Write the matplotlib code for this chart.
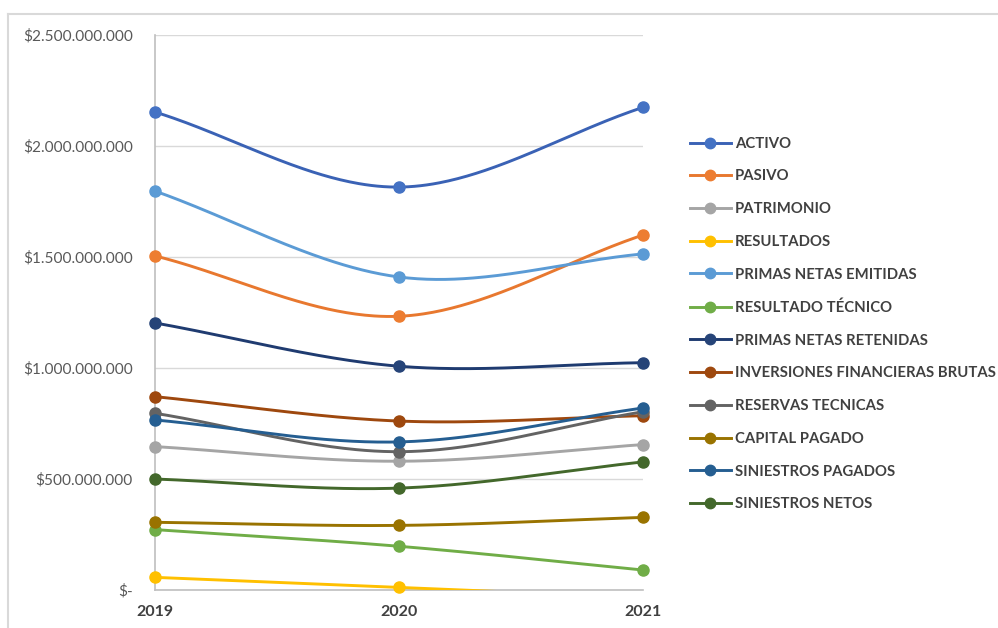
import numpy as np
import matplotlib.pyplot as plt
from matplotlib.lines import Line2D
from matplotlib.ticker import FuncFormatter, MultipleLocator

plt.rcParams['font.family'] = ['Lato', 'DejaVu Sans']

years = ['2019', '2020', '2021']

# pesos por año
activo = [2153e6, 1815e6, 2174e6]
pasivo = [1505e6, 1233e6, 1599e6]
patrimonio = [646e6, 580e6, 655e6]
resultados = [57e6, 12e6, -35e6]
primas_emitidas = [1797e6, 1410e6, 1514e6]
resultado_tecnico = [272e6, 197e6, 90e6]
primas_retenidas = [1203e6, 1008e6, 1024e6]
inversiones = [871e6, 761e6, 785e6]
reservas = [796e6, 623e6, 803e6]
capital_pagado = [305e6, 291e6, 327e6]
siniestros_pagados = [766e6, 667e6, 820e6]
siniestros_netos = [500e6, 459e6, 577e6]

series = [
    ('ACTIVO', activo, '#3A62B5', '#4472C4'),
    ('PASIVO', pasivo, '#E8782F', '#ED7D31'),
    ('PATRIMONIO', patrimonio, '#A5A5A5', '#A5A5A5'),
    ('RESULTADOS', resultados, '#FFC000', '#FFC000'),
    ('PRIMAS NETAS EMITIDAS', primas_emitidas, '#5B9BD5', '#5B9BD5'),
    ('RESULTADO TÉCNICO', resultado_tecnico, '#70AD47', '#70AD47'),
    ('PRIMAS NETAS RETENIDAS', primas_retenidas, '#1F3B70', '#264478'),
    ('INVERSIONES FINANCIERAS BRUTAS', inversiones, '#9E480E', '#9E480E'),
    ('RESERVAS TECNICAS', reservas, '#636363', '#636363'),
    ('CAPITAL PAGADO', capital_pagado, '#997300', '#997300'),
    ('SINIESTROS PAGADOS', siniestros_pagados, '#255E91', '#255E91'),
    ('SINIESTROS NETOS', siniestros_netos, '#43682B', '#43682B'),
]


def smooth(values, n=80):
    # curva suavizada tipo Excel (Hermite cúbica)
    y = np.asarray(values, float)
    m = np.empty_like(y)
    m[0] = y[1] - y[0]
    m[-1] = y[-1] - y[-2]
    m[1:-1] = (y[2:] - y[:-2]) / 2
    t = np.linspace(0, 1, n)
    h00 = 2 * t**3 - 3 * t**2 + 1
    h10 = t**3 - 2 * t**2 + t
    h01 = -2 * t**3 + 3 * t**2
    h11 = t**3 - t**2
    xs, ys = [], []
    for i in range(len(y) - 1):
        xs.append(i + t)
        ys.append(h00 * y[i] + h10 * m[i] + h01 * y[i + 1] + h11 * m[i + 1])
    return np.concatenate(xs), np.concatenate(ys)


fig = plt.figure(figsize=(9.98, 6.28), dpi=100)
ax = fig.add_axes([155 / 998, 1 - 590 / 628, (643 - 155) / 998, (590 - 35) / 628])

handles = []
for name, vals, lc, mc in series:
    sx, sy = smooth(vals)
    ax.plot(sx, sy, color=lc, lw=2.1, solid_capstyle='round', zorder=3)
    x = np.arange(len(vals))
    v = np.asarray(vals)
    ok = v >= 0
    ax.plot(x[ok], v[ok], 'o', color=mc, ms=8, clip_on=False, zorder=4)
    handles.append(Line2D([], [], color=lc, lw=2.1, marker='o', ms=7.5,
                          markerfacecolor=mc, markeredgecolor=mc))

ax.set_xlim(0, len(years) - 1)
ax.set_ylim(0, 2.5e9)
ax.set_xticks(range(len(years)))
ax.set_xticklabels(years, fontweight='bold', color='#404040', fontsize=11.5)
ax.yaxis.set_major_locator(MultipleLocator(5e8))
ax.yaxis.set_major_formatter(FuncFormatter(
    lambda v, p: '$-' if v == 0 else '$' + f'{v:,.0f}'.replace(',', '.')))
ax.tick_params(axis='y', length=0, pad=16, labelcolor='#595959', labelsize=11.1)
ax.tick_params(axis='x', length=0, pad=11)
ax.grid(axis='y', color='#D9D9D9', lw=1)
ax.set_axisbelow(True)
for s in ['top', 'right']:
    ax.spines[s].set_visible(False)
for s in ['left', 'bottom']:
    ax.spines[s].set_color('#BFBFBF')
    ax.spines[s].set_linewidth(1.2)

fig.legend(handles, [s[0] for s in series], loc='center left',
           bbox_to_anchor=(690 / 998, 1 - 324 / 628), frameon=False,
           borderaxespad=0, borderpad=0, handlelength=2.75, handletextpad=0.25,
           labelspacing=1.26, prop={'weight': 'bold', 'size': 10.7},
           labelcolor='#404040')

# marco del gráfico
fig.add_artist(Line2D([7.5 / 998, 1], [1 - 14 / 628] * 2, transform=fig.transFigure,
                      color='#D9D9D9', lw=1.5))
fig.add_artist(Line2D([7.5 / 998] * 2, [0, 1 - 14 / 628], transform=fig.transFigure,
                      color='#D9D9D9', lw=1.5))

fig.savefig('out.png', dpi=100)
